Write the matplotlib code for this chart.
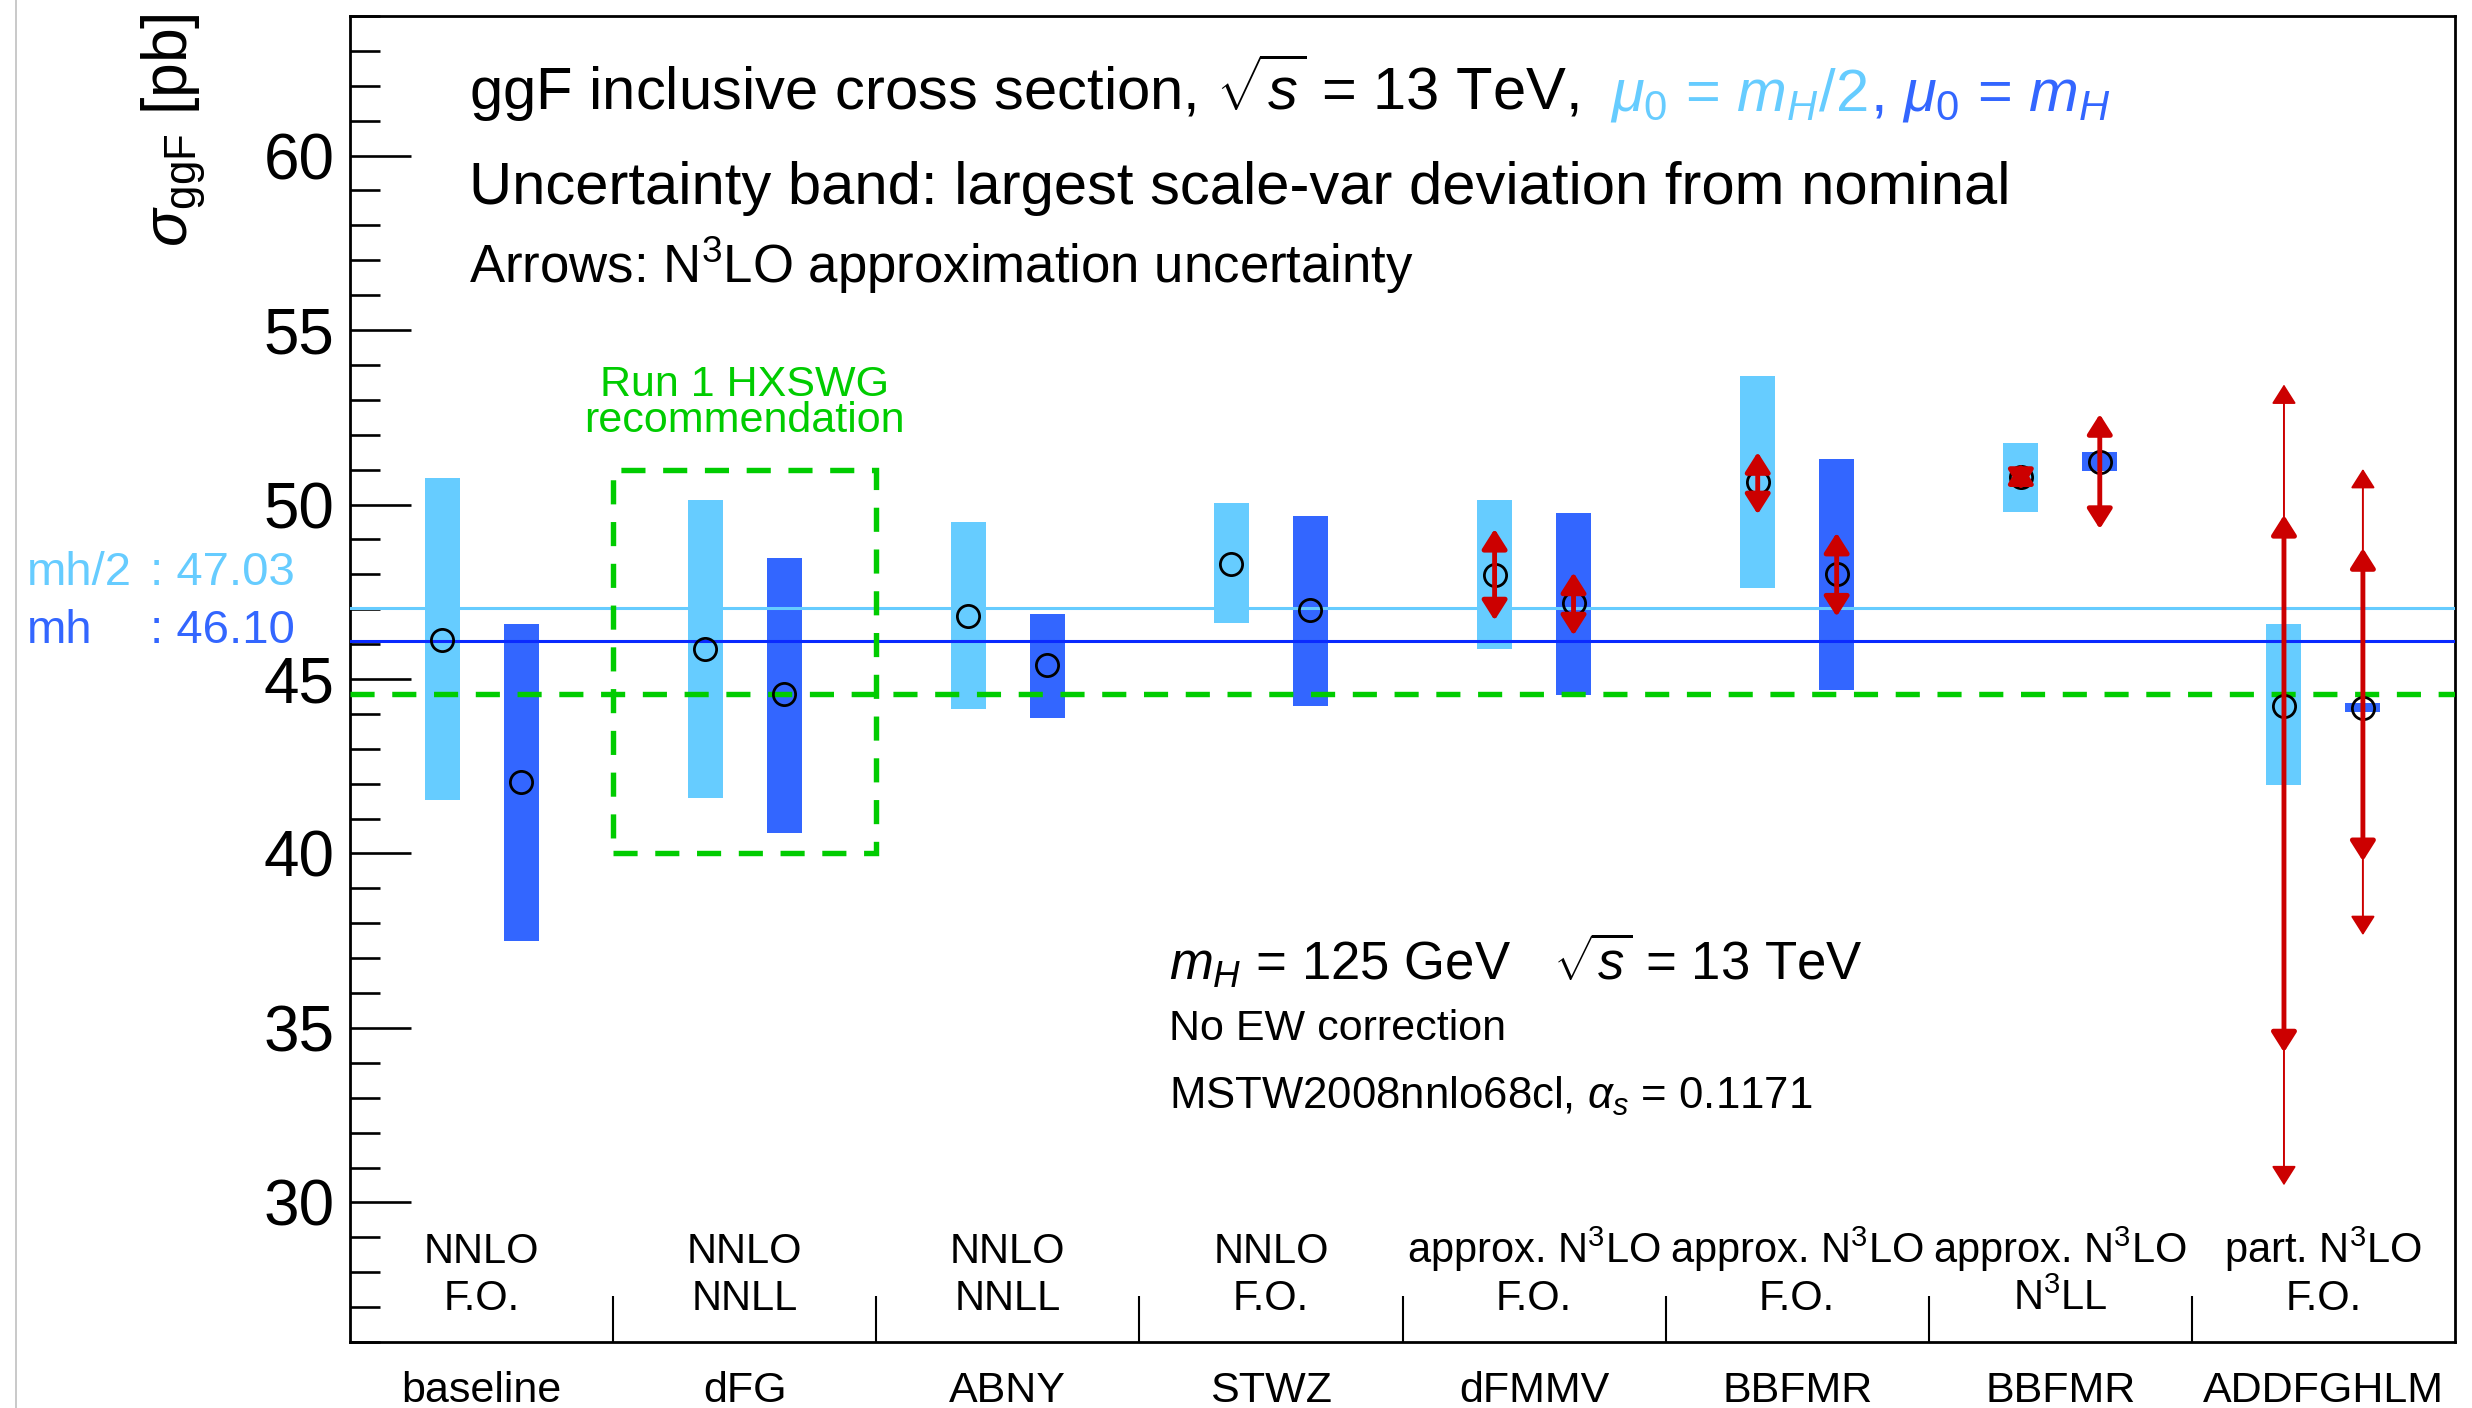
import matplotlib
matplotlib.use("Agg")
import matplotlib.pyplot as plt
import numpy as np
from matplotlib.ticker import MultipleLocator
from matplotlib.lines import Line2D
from matplotlib.patches import Rectangle

plt.rcParams['font.family'] = ['Liberation Sans', 'DejaVu Sans']
plt.rcParams['mathtext.fontset'] = 'custom'
plt.rcParams['mathtext.rm'] = 'Liberation Sans'
plt.rcParams['mathtext.it'] = 'Liberation Sans:italic'
plt.rcParams['mathtext.bf'] = 'Liberation Sans:bold'

# ---- data ----
calc_names = ["baseline", "dFG", "ABNY", "STWZ", "dFMMV", "BBFMR", "BBFMR", "ADDFGHLM"]
order_line1 = ["NNLO", "NNLO", "NNLO", "NNLO", "approx. N$^3$LO",
               "approx. N$^3$LO", "approx. N$^3$LO", "part. N$^3$LO"]
order_line2 = ["F.O.", "NNLL", "NNLL", "F.O.", "F.O.", "F.O.", "N$^3$LL", "F.O."]

# mu0 = mH/2
half_central = [46.12, 45.85, 46.80, 48.30, 47.99, 50.64, 50.80, 44.22]
half_low = [41.52, 41.59, 44.15, 46.60, 45.86, 47.60, 49.78, 41.97]
half_high = [50.77, 50.12, 49.49, 50.03, 50.12, 53.68, 51.77, 46.58]
# mu0 = mH
full_central = [42.05, 44.58, 45.39, 46.98, 47.18, 48.02, 51.23, 44.17]
full_low = [37.50, 40.59, 43.88, 44.24, 44.53, 44.68, 50.95, 44.04]
full_high = [46.58, 48.47, 46.85, 49.67, 49.77, 51.30, 51.50, 44.30]

# N3LO approximation uncertainty arrows: (category, low, high)
half_arrows = [(4, 46.68, 49.30), (5, 49.72, 51.50), (6, 50.42, 51.18), (7, 34.30, 49.70)]
half_arrows_wide = [(7, 30.49, 53.44)]
full_arrows = [(4, 46.25, 48.05), (5, 46.79, 49.19), (6, 49.30, 52.59), (7, 39.78, 48.75)]
full_arrows_wide = [(7, 37.66, 51.02)]

mean_half = 47.03
mean_full = 46.10
run1_value = 44.58
run1_box = (40.0, 51.0)

# colours
c_half = '#66CCFF'
c_full = '#3366FF'
c_full_line = '#0A2AFF'
c_green = '#00CC00'
c_red = '#CC0000'

W, H = 2472, 1408
fig = plt.figure(figsize=(W / 100, H / 100), dpi=100, facecolor='w')
ax = fig.add_axes([350 / W, (H - 1342) / H, (2455 - 350) / W, (1342 - 16) / H])

n = len(calc_names)
x = np.arange(n)
x_half = x + 0.35
x_full = x + 0.65
bw = 0.133

ax.bar(x_half, np.array(half_high) - np.array(half_low), bottom=half_low,
       width=bw, color=c_half, linewidth=0, zorder=2)
ax.bar(x_full, np.array(full_high) - np.array(full_low), bottom=full_low,
       width=bw, color=c_full, linewidth=0, zorder=2)

# reference lines
ax.axhline(mean_half, color=c_half, lw=2.2, zorder=3)
ax.axhline(mean_full, color=c_full_line, lw=2.2, zorder=3)
ax.axhline(run1_value, color=c_green, lw=3.9, dashes=(4.45, 3.26), zorder=3)
ax.add_patch(Rectangle((1, run1_box[0]), 1, run1_box[1] - run1_box[0], fill=False,
                       edgecolor=c_green, lw=3.9, ls=(0, (4.45, 3.26)), zorder=3))
ax.text(1.5, 52.09, "Run 1 HXSWG\nrecommendation", color=c_green, fontsize=31,
        ha='center', va='baseline', linespacing=0.86)

# central values
ax.plot(x_half, half_central, 'o', mfc='none', mec='black', ms=16, mew=2.0, zorder=4)
ax.plot(x_full, full_central, 'o', mfc='none', mec='black', ms=16, mew=2.0, zorder=4)


def draw_arrow(xpos, lo, hi, lw):
    ax.annotate('', xy=(xpos, hi), xytext=(xpos, lo),
                arrowprops=dict(arrowstyle='<|-|>,head_length=0.6,head_width=0.38',
                                mutation_scale=20, color=c_red, lw=lw,
                                shrinkA=0, shrinkB=0),
                zorder=5)


for i, lo, hi in half_arrows_wide:
    draw_arrow(x_half[i], lo, hi, 1.4)
for i, lo, hi in full_arrows_wide:
    draw_arrow(x_full[i], lo, hi, 1.4)
for i, lo, hi in half_arrows:
    draw_arrow(x_half[i], lo, hi, 3.5)
for i, lo, hi in full_arrows:
    draw_arrow(x_full[i], lo, hi, 3.5)

# axes styling
ax.set_xlim(0, n)
ax.set_ylim(26, 64)
ax.yaxis.set_major_locator(MultipleLocator(5))
ax.yaxis.set_minor_locator(MultipleLocator(1))
ax.tick_params(axis='y', which='major', direction='in', length=44, width=1.9,
               labelsize=46, pad=11)
ax.tick_params(axis='y', which='minor', direction='in', length=21.6, width=1.9)
ax.set_xticks(np.arange(1, n))
ax.tick_params(axis='x', which='major', direction='in', length=32.8, width=1.5,
               labelbottom=False)
for s in ax.spines.values():
    s.set_linewidth(2.0)

# category labels
tr = ax.get_xaxis_transform()
for i in range(n):
    ax.text(i + 0.5, 0.0598, order_line1[i], transform=tr, ha='center', va='baseline', fontsize=30)
    ax.text(i + 0.5, 0.0245, order_line2[i], transform=tr, ha='center', va='baseline', fontsize=30)
    ax.text(i + 0.5, -0.0452, calc_names[i], transform=tr, ha='center', va='baseline', fontsize=31)

# y label
fig.text(174 / W, 1 - 13 / H, r"$\sigma_{\mathrm{ggF}}$ [pb]", rotation=90,
         ha='center', va='top', fontsize=45)

# mean value labels on the left
fig.text(27 / W, 1 - 585 / H, "mh/2", color=c_half, fontsize=34, va='baseline')
fig.text(150 / W, 1 - 585 / H, ": %.2f" % mean_half, color=c_half, fontsize=34, va='baseline')
fig.text(27 / W, 1 - 643 / H, "mh", color=c_full, fontsize=34, va='baseline')
fig.text(150 / W, 1 - 643 / H, ": %.2f" % mean_full, color=c_full, fontsize=34, va='baseline')

# header text
t1 = fig.text(469 / W, 1 - 110 / H, r"ggF inclusive cross section, $\sqrt{s}$ = 13 TeV,",
              fontsize=43, va='baseline')
t2 = fig.text(0.5, 1 - 110 / H, r"$\mu_0$ = $m_H$/2", color=c_half, fontsize=43, va='baseline')
t3 = fig.text(0.5, 1 - 110 / H, r", $\mu_0$ = $m_H$", color=c_full, fontsize=43, va='baseline')
fig.text(469 / W, 1 - 204 / H, "Uncertainty band: largest scale-var deviation from nominal",
         fontsize=43, va='baseline')
fig.text(469 / W, 1 - 283 / H, "Arrows: N$^3$LO approximation uncertainty",
         fontsize=38, va='baseline')

# info block
fig.text(1169 / W, 1 - 980 / H, r"$m_H$ = 125 GeV   $\sqrt{s}$ = 13 TeV", fontsize=38, va='baseline')
fig.text(1169 / W, 1 - 1040 / H, "No EW correction", fontsize=31, va='baseline')
fig.text(1169 / W, 1 - 1109 / H, r"MSTW2008nnlo68cl, $\alpha_s$ = 0.1171", fontsize=31.5, va='baseline')

# thin gray frame line at the left edge
fig.add_artist(Line2D([16 / W, 16 / W], [0, 1], color='#C0C0C0', lw=1.2,
                      transform=fig.transFigure))

# chain the coloured parts of the header
fig.canvas.draw()
r = fig.canvas.get_renderer()
bb = t1.get_window_extent(r)
t2.set_x((bb.x1 + 32) / W)
bb = t2.get_window_extent(r)
t3.set_x((bb.x1 + 2) / W)

fig.savefig("out.png", dpi=100, facecolor='w')
